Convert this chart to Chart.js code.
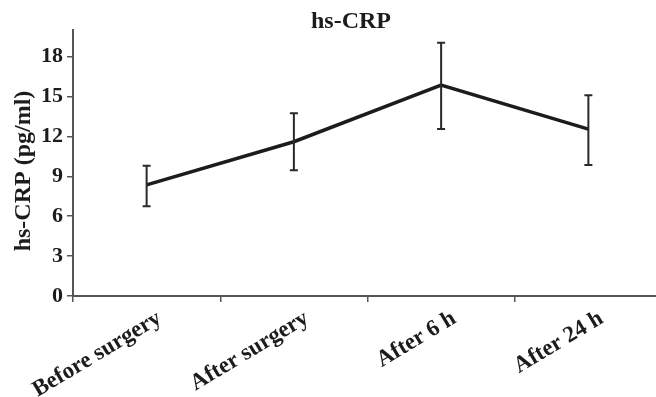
<!DOCTYPE html>
<html>
<head>
<meta charset="utf-8">
<script src="https://cdn.jsdelivr.net/npm/chart.js@4.4.0/dist/chart.umd.min.js"></script>
<style>
html,body{margin:0;padding:0;background:#fff;overflow:hidden;width:656px;height:397px;}
canvas{display:block;}
</style>
</head>
<body>
<canvas id="c" width="662" height="397"></canvas>
<script>
const categories = ["Before surgery", "After surgery", "After 6 h", "After 24 h"];
const means = [8.35, 11.6, 15.85, 12.55];
const upperErr = [9.8, 13.75, 19.05, 15.1];
const lowerErr = [6.75, 9.45, 12.55, 9.85];
const yTicks = [0, 3, 6, 9, 12, 15, 18];
const chartTitle = "hs-CRP";
const yTitle = "hs-CRP (pg/ml)";

const FONT = "'Liberation Serif', 'Times New Roman', serif";
const INK = "#1c1c1c";
const AXIS = "#555";

const errorBars = {
  id: 'errorBars',
  afterDatasetsDraw(chart) {
    const ctx = chart.ctx, xs = chart.scales.x, ys = chart.scales.y;
    ctx.save();
    ctx.strokeStyle = "#2a2a2a";
    ctx.lineWidth = 2;
    for (let i = 0; i < means.length; i++) {
      const x = xs.getPixelForValue(i);
      const yt = ys.getPixelForValue(upperErr[i]);
      const yb = ys.getPixelForValue(lowerErr[i]);
      ctx.beginPath();
      ctx.moveTo(x, yt); ctx.lineTo(x, yb);
      ctx.moveTo(x - 4, yt); ctx.lineTo(x + 4, yt);
      ctx.moveTo(x - 4, yb); ctx.lineTo(x + 4, yb);
      ctx.stroke();
    }
    ctx.restore();
  }
};

const titlePlugin = {
  id: 'topTitle',
  afterDraw(chart) {
    const ctx = chart.ctx;
    ctx.save();
    ctx.fillStyle = INK;
    ctx.font = "bold 24px " + FONT;
    ctx.textAlign = "center";
    ctx.textBaseline = "alphabetic";
    ctx.fillText(chartTitle, 351, 28);
    // y axis title
    ctx.translate(24, 171);
    ctx.rotate(-Math.PI / 2);
    ctx.textBaseline = "middle";
    ctx.font = "bold 24px " + FONT;
    ctx.fillText(yTitle, 0, 0);
    ctx.restore();
  }
};

new Chart(document.getElementById('c'), {
  type: 'line',
  data: {
    labels: categories,
    datasets: [{
      data: means,
      borderColor: INK,
      borderWidth: 3.5,
      pointRadius: 0,
      tension: 0,
      fill: false
    }]
  },
  options: {
    responsive: false,
    animation: false,
    layout: { padding: { top: 30, left: 0, right: 0, bottom: 0 } },
    plugins: { legend: { display: false }, tooltip: { enabled: false }, title: { display: false } },
    scales: {
      x: {
        type: 'category',
        offset: true,
        afterFit(s) { s.height = 101; },
        border: { display: true, color: AXIS, width: 2 },
        grid: { display: true, drawOnChartArea: false, offset: true, color: AXIS, lineWidth: 1.5, tickLength: 6 },
        ticks: {
          autoSkip: false,
          minRotation: 31, maxRotation: 31,
          color: INK,
          padding: 3,
          labelOffset: 13,
          font: { family: FONT, size: 23, weight: 'bold' }
        }
      },
      y: {
        min: 0, max: 20,
        afterFit(s) { s.width = 73; },
        afterBuildTicks(s) { s.ticks = yTicks.map(v => ({ value: v })); },
        border: { display: true, color: AXIS, width: 2 },
        grid: { display: true, drawOnChartArea: false, color: AXIS, lineWidth: 1.5, tickLength: 6 },
        ticks: {
          color: INK,
          padding: 4,
          font: { family: FONT, size: 22, weight: 'bold' }
        }
      }
    }
  },
  plugins: [errorBars, titlePlugin]
});
</script>
</body>
</html>
